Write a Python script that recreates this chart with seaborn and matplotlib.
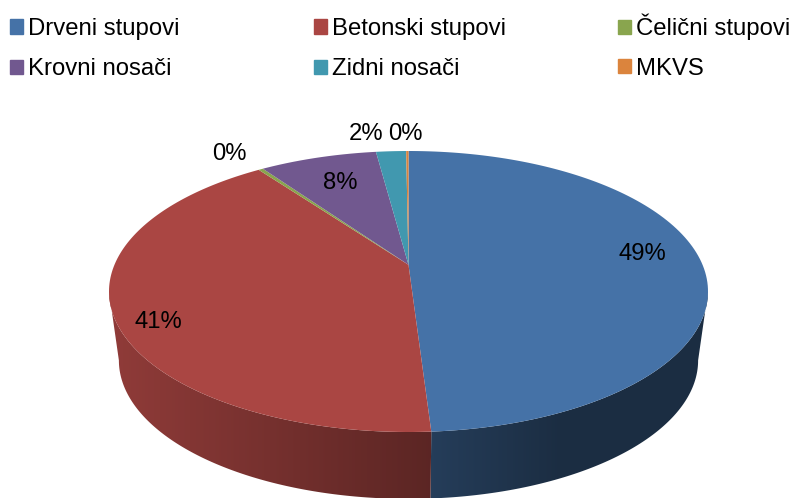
import numpy as np
import matplotlib
matplotlib.use('Agg')
import matplotlib.pyplot as plt
import seaborn as sns
from matplotlib.patches import Patch, Polygon
from matplotlib.path import Path
from matplotlib.transforms import Affine2D, Transform

categories = ['Drveni stupovi', 'Betonski stupovi', 'Čelični stupovi',
              'Krovni nosači', 'Zidni nosači', 'MKVS']
shares = [49.0, 41.0, 0.3, 7.6, 1.95, 0.15]
slice_colors = ['#4572A7', '#AA4643', '#89A54E', '#71588F', '#4198AF', '#DB843D']

W, H = 792, 498
CX, CY, RX, RY = 408.5, 291.5, 299.5, 140.5
TILT = 0.19  # how far the pie's apex sits above the middle of the ellipse
DROP, BOTTOM_X, BOTTOM_Y = 0.49, 0.967, 0.986  # extruded base of the disc

sns.set_theme(style='white')
plt.rcParams['font.family'] = ['Liberation Sans', 'DejaVu Sans']


def tilt(xy):
    # projective map of the unit circle onto itself, moves the centre up
    x, y = xy[:, 0], xy[:, 1]
    d = 1 + TILT * y
    return np.column_stack([x * np.sqrt(1 - TILT**2) / d, (y + TILT) / d])


class Tilted(Transform):
    input_dims = output_dims = 2

    def transform_non_affine(self, values):
        return tilt(np.asarray(values, dtype=float))

    def transform_path_non_affine(self, path):
        # flatten the curves at a large scale so the arcs stay smooth
        big = path.transformed(Affine2D().scale(1000))
        poly = big.to_polygons(closed_only=False)[0] / 1000
        return Path(tilt(poly))


def px(x, y):
    return (x - CX) / RX, (CY - y) / RY


fig = plt.figure(figsize=(W / 100, H / 100), dpi=100)
ax = fig.add_axes([0, 0, 1, 1])

wedges, _, autotexts = ax.pie(shares, colors=sns.color_palette(slice_colors),
                              startangle=90, counterclock=False, autopct='%.0f%%',
                              wedgeprops={'linewidth': 0, 'edgecolor': 'none'})
ax.set_aspect('auto')
xlim = (px(0, 0)[0], px(W, 0)[0])
ylim = (px(0, H)[1], px(0, 0)[1])

tilted = Tilted() + ax.transData
for w in wedges:
    w.set_transform(tilted)

# side wall, one horizontal gradient per visible slice
side_lo = 180 + np.degrees(np.arcsin(TILT))
side_hi = 360 - np.degrees(np.arcsin(TILT))
grad_x = np.linspace(xlim[0], xlim[1], 400)
shade = np.interp(grad_x, [-0.97, 0.07, 0.5, 1.0], [0.84, 0.54, 0.40, 0.40])
for w, color in zip(wedges, slice_colors):
    lo = w.theta1 % 360
    hi = lo + (w.theta2 - w.theta1)
    lo, hi = max(lo, side_lo), min(hi, side_hi)
    if hi <= lo:
        continue
    t = np.radians(np.linspace(lo, hi, 120))
    top = tilt(np.column_stack([np.cos(t), np.sin(t)]))
    bottom = top * [BOTTOM_X, BOTTOM_Y] - [0, DROP]
    outline = Polygon(np.vstack([top, bottom[::-1]]), closed=True, transform=ax.transData)
    rgb = np.array(matplotlib.colors.to_rgb(color))
    img = shade[None, :, None] * rgb
    im = ax.imshow(img, extent=(xlim[0], xlim[1], ylim[0], ylim[1]), aspect='auto', zorder=0)
    im.set_clip_path(outline)

ax.set_xlim(xlim)
ax.set_ylim(ylim)

# data labels
label_pos = [(642, 254), (158, 322), (229, 154), (340, 183), (366, 134), (405, 134)]
for t, (x, y) in zip(autotexts, label_pos):
    t.set_position(px(x, y))
    t.set_fontsize(17.2)
    t.set_color('black')
    t.set_ha('center')
    t.set_va('center')

# legend, one block per column so the columns keep equal pitch
for col, (x0, y0, gap) in enumerate([(10, 18, 0.76), (314, 18, 0.76), (618, 14, 0.72)]):
    rows = [col, col + 3]
    handles = [Patch(color=slice_colors[i]) for i in rows]
    fig.legend(handles, [categories[i] for i in rows], loc='upper left',
               bbox_to_anchor=(x0 / W, 1 - y0 / H), frameon=False, fontsize=17.2,
               borderpad=0, borderaxespad=0, handlelength=0.55, handleheight=0.55,
               handletextpad=0.2, labelspacing=gap, labelcolor='black')

fig.savefig('out.png', dpi=100)
